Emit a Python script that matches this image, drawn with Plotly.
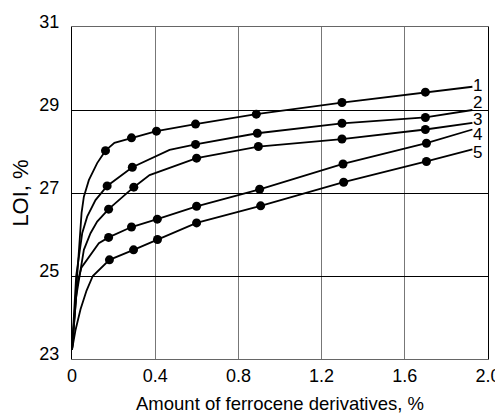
import plotly.graph_objects as go

# x tick labels
x_ticks = [0, 0.4, 0.8, 1.2, 1.6, 2.0]
x_ticktext = ["0", "0.4", "0.8", "1.2", "1.6", "2.0"]
y_ticks = [23, 25, 27, 29, 31]

curve_names = ["1", "2", "3", "4", "5"]

# measured points (markers)
m1_x = [0.161, 0.286, 0.406, 0.594, 0.886, 1.298, 1.699]
m1_y = [28.02, 28.33, 28.49, 28.66, 28.90, 29.18, 29.43]
m2_x = [0.169, 0.290, 0.594, 0.891, 1.298, 1.699]
m2_y = [27.17, 27.62, 28.17, 28.44, 28.68, 28.82]
m3_x = [0.176, 0.297, 0.599, 0.896, 1.298, 1.699]
m3_y = [26.61, 27.14, 27.84, 28.12, 28.30, 28.53]
m4_x = [0.176, 0.286, 0.410, 0.599, 0.902, 1.303, 1.704]
m4_y = [25.93, 26.18, 26.37, 26.68, 27.09, 27.70, 28.20]
m5_x = [0.180, 0.296, 0.411, 0.599, 0.907, 1.306, 1.704]
m5_y = [25.39, 25.63, 25.88, 26.28, 26.69, 27.26, 27.76]

# unmarked vertices of the drawn curves (start, bends, end)
p1_x = [0.0, 0.033, 0.046, 0.057, 0.081, 0.121, 0.204, 1.925]
p1_y = [23.22, 25.63, 26.52, 26.91, 27.31, 27.72, 28.21, 29.56]
p2_x = [0.0, 0.02, 0.049, 0.073, 0.113, 0.469, 1.925]
p2_y = [23.22, 25.0, 26.03, 26.43, 26.83, 28.04, 29.0]
p3_x = [0.0, 0.02, 0.057, 0.089, 0.121, 0.373, 1.925]
p3_y = [23.22, 24.5, 25.63, 26.03, 26.31, 27.43, 28.69]
p4_x = [0.0, 0.025, 0.045, 0.095, 0.129, 1.925]
p4_y = [23.22, 24.8, 25.2, 25.55, 25.79, 28.53]
p5_x = [0.0, 0.017, 0.041, 0.07, 0.10, 1.925]
p5_y = [23.22, 23.70, 24.2, 24.65, 25.0, 28.05]

# label positions for curve numbers
label_x = [1.95, 1.95, 1.95, 1.95, 1.95]
label_y = [29.60, 29.17, 28.78, 28.41, 27.98]

markers = [(m1_x, m1_y), (m2_x, m2_y), (m3_x, m3_y), (m4_x, m4_y), (m5_x, m5_y)]
paths = [(p1_x, p1_y), (p2_x, p2_y), (p3_x, p3_y), (p4_x, p4_y), (p5_x, p5_y)]

FONT = "Arial, Liberation Sans, sans-serif"
fig = go.Figure()
for (mx, my), (px, py) in zip(markers, paths):
    pts = sorted(list(zip(mx, my)) + list(zip(px, py)))
    fig.add_trace(go.Scatter(x=[p[0] for p in pts], y=[p[1] for p in pts],
                             mode="lines", line=dict(color="black", width=1.8),
                             showlegend=False, hoverinfo="skip"))
    fig.add_trace(go.Scatter(x=mx, y=my, mode="markers",
                             marker=dict(color="black", size=9),
                             showlegend=False))

for name, lx, ly in zip(curve_names, label_x, label_y):
    fig.add_annotation(x=lx, y=ly, text=name, showarrow=False,
                       font=dict(family=FONT, size=17, color="black"))

# page body has an 8px margin, so the figure is sized/offset to compensate
fig.update_layout(
    width=495, height=406,
    margin=dict(l=64, r=15, t=19, b=55),
    plot_bgcolor="white", paper_bgcolor="white",
    font=dict(family=FONT, size=18, color="black"),
)
fig.update_xaxes(range=[0, 2.0], tickvals=x_ticks, ticktext=x_ticktext,
                 showgrid=True, gridcolor="#777777", gridwidth=1,
                 showline=True, linecolor="#666666", linewidth=1, mirror=True,
                 zeroline=False, ticks="", automargin=False,
                 title=dict(text="Amount of ferrocene derivatives, %", standoff=18,
                            font=dict(size=18.5)))
fig.update_yaxes(range=[23, 31], tickvals=y_ticks,
                 showgrid=True, gridcolor="black", gridwidth=1,
                 showline=True, linecolor="black", linewidth=1, mirror=True,
                 zeroline=False, ticks="", ticklabelstandoff=8, ticklabelshift=-5,
                 automargin=False,
                 title=dict(text="LOI, %", standoff=10))

fig.write_html("out.html")
